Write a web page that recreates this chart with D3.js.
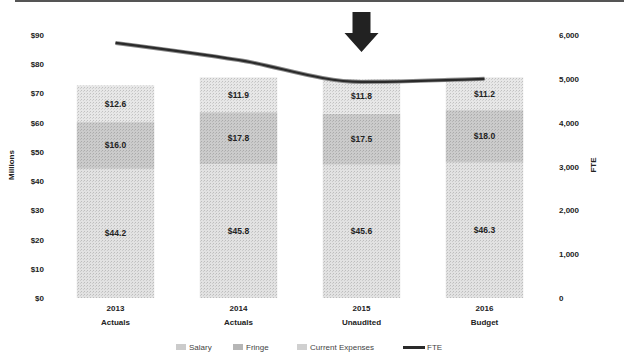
<!DOCTYPE html>
<html><head><meta charset="utf-8">
<script src="https://cdn.jsdelivr.net/npm/d3@7/dist/d3.min.js"></script>
<style>
body{margin:0;background:#fff;}
svg{display:block;font-family:"Liberation Sans",Arial,sans-serif;}
</style></head>
<body><svg id="c" width="624" height="357"></svg>
<script>
const years = ["2013", "2014", "2015", "2016"];
const subLabels = ["Actuals", "Actuals", "Unaudited", "Budget"];
const salary = [44.2, 45.8, 45.6, 46.3];
const fringe = [16.0, 17.8, 17.5, 18.0];
const currentExp = [12.6, 11.9, 11.8, 11.2];
const fte = [5820, 5430, 4930, 5000];
const leftTicks = [0, 10, 20, 30, 40, 50, 60, 70, 80, 90];
const rightTicks = [0, 1000, 2000, 3000, 4000, 5000, 6000];
const seriesNames = ["Salary", "Fringe", "Current Expenses", "FTE"];
const colors = {Salary: "#e2e2e2", Fringe: "#cbcbcb", "Current Expenses": "#e7e7e7", FTE: "#2a2a2a"};

const svg = d3.select("#c");
const x = d3.scaleBand().domain(years).range([54, 546]).paddingInner(0.37).paddingOuter(0.185);
const yL = d3.scaleLinear().domain([0, 90]).range([298, 35]);
const yR = d3.scaleLinear().domain([0, 6000]).range([298, 35]);

// top border
svg.append("rect").attr("x", 15).attr("y", 0).attr("width", 609).attr("height", 2).attr("fill", "#555");

// stacked data
const rows = years.map((y, i) => ({year: y, Salary: salary[i], Fringe: fringe[i], "Current Expenses": currentExp[i]}));
const stack = d3.stack().keys(["Salary", "Fringe", "Current Expenses"])(rows);

// subtle dither pattern to mimic texture
const defs = svg.append("defs");
Object.entries(colors).slice(0,3).forEach(([k, c], idx) => {
  const p = defs.append("pattern").attr("id", "pat" + idx).attr("width", 3).attr("height", 3).attr("patternUnits", "userSpaceOnUse");
  p.append("rect").attr("width", 3).attr("height", 3).attr("fill", c);
  p.append("rect").attr("x", 0).attr("y", 0).attr("width", 1).attr("height", 1).attr("fill", d3.color(c).darker(0.5));
  p.append("rect").attr("x", 2).attr("y", 1).attr("width", 1).attr("height", 1).attr("fill", d3.color(c).darker(0.3));
});

stack.forEach((layer, li) => {
  const g = svg.append("g");
  g.selectAll("rect").data(layer).join("rect")
    .attr("x", d => x(d.data.year))
    .attr("width", x.bandwidth())
    .attr("y", d => yL(d[1]))
    .attr("height", d => yL(d[0]) - yL(d[1]))
    .attr("fill", "url(#pat" + li + ")");
  g.selectAll("text").data(layer).join("text")
    .attr("x", d => x(d.data.year) + x.bandwidth() / 2)
    .attr("y", d => yL((d[0] + d[1]) / 2) + 3)
    .attr("text-anchor", "middle")
    .attr("font-size", 8.5).attr("font-weight", "bold").attr("fill", "#222")
    .text(d => "$" + (d[1] - d[0]).toFixed(1));
});

// FTE line
const line = d3.line().x((d, i) => x(years[i]) + x.bandwidth() / 2).y(d => yR(d)).curve(d3.curveMonotoneX);
svg.append("path").datum(fte).attr("d", line).attr("fill", "none").attr("stroke", "#888").attr("stroke-width", 4);
svg.append("path").datum(fte).attr("d", line).attr("fill", "none").attr("stroke", colors.FTE).attr("stroke-width", 2.2);

// left axis labels
svg.append("g").selectAll("text").data(leftTicks).join("text")
  .attr("x", 44).attr("y", d => yL(d) + 3)
  .attr("text-anchor", "end").attr("font-size", 8).attr("font-weight", "bold").attr("fill", "#222")
  .text(d => "$" + d);
// right axis labels
svg.append("g").selectAll("text").data(rightTicks).join("text")
  .attr("x", 559).attr("y", d => yR(d) + 3)
  .attr("text-anchor", "start").attr("font-size", 8).attr("font-weight", "bold").attr("fill", "#222")
  .text(d => d3.format(",")(d));

// axis titles
svg.append("text").attr("transform", "translate(14,165) rotate(-90)").attr("text-anchor", "middle")
  .attr("font-size", 8).attr("font-weight", "bold").attr("fill", "#222").text("Millions");
svg.append("text").attr("transform", "translate(596,165) rotate(-90)").attr("text-anchor", "middle")
  .attr("font-size", 8).attr("font-weight", "bold").attr("fill", "#222").text("FTE");

// category labels
const xl = svg.append("g");
years.forEach((y, i) => {
  const cx = x(y) + x.bandwidth() / 2;
  xl.append("text").attr("x", cx).attr("y", 311).attr("text-anchor", "middle")
    .attr("font-size", 8).attr("font-weight", "bold").attr("fill", "#222").text(y);
  xl.append("text").attr("x", cx).attr("y", 325).attr("text-anchor", "middle")
    .attr("font-size", 8).attr("font-weight", "bold").attr("fill", "#222").text(subLabels[i]);
});

// arrow annotation above 2015
const ax = x("2015") + x.bandwidth() / 2;
svg.append("path")
  .attr("d", `M${ax-9},12 L${ax+9},12 L${ax+9},33 L${ax+17},33 L${ax},52 L${ax-17},33 L${ax-9},33 Z`)
  .attr("fill", "#222");

// legend
const lg = svg.append("g").attr("font-size", 8).attr("fill", "#444");
const legendX = [176, 233, 297, 403];
seriesNames.forEach((n, i) => {
  const lx = legendX[i];
  if (n === "FTE") {
    lg.append("rect").attr("x", lx).attr("y", 346).attr("width", 22).attr("height", 3).attr("fill", colors.FTE);
    lg.append("text").attr("x", lx + 24).attr("y", 350).text(n);
  } else {
    lg.append("rect").attr("x", lx).attr("y", 344).attr("width", 10).attr("height", 6).attr("fill", d3.color(colors[n]).darker(0.3));
    lg.append("text").attr("x", lx + 13).attr("y", 350).text(n);
  }
});
</script></body></html>
